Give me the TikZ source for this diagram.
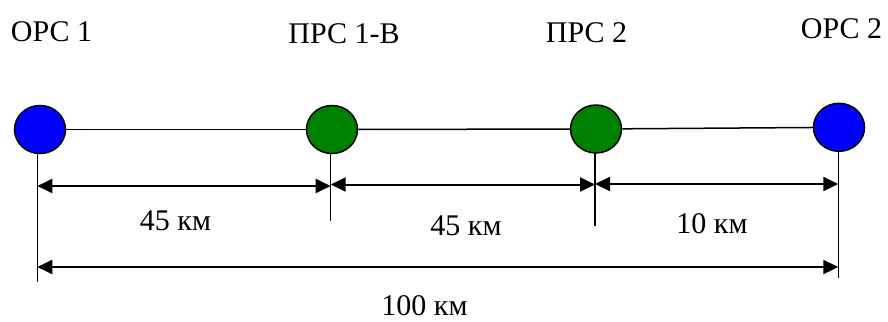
\documentclass[tikz,border=0pt]{standalone}
\usepackage{fontspec}
\setmainfont{Liberation Serif}
\newfontfamily\labelserif{Liberation Serif}
\usetikzlibrary{shapes.geometric,arrows.meta}
\definecolor{stblue}{RGB}{0,0,255}
\definecolor{stgreen}{RGB}{0,128,0}
\tikzset{
  station/.style={ellipse, draw=black, line width=1.5bp, inner sep=0pt,
                  minimum width=51bp, minimum height=48bp},
  endst/.style={station, fill=stblue},
  midst/.style={station, fill=stgreen},
  link/.style={line width=1.5bp},
  tick/.style={line width=1.5bp},
  dim/.style={line width=2bp, {Triangle[length=15bp,width=14bp]}-{Triangle[length=15bp,width=14bp]}},
  lbl/.style={inner sep=0pt, font=\labelserif\fontsize{30bp}{36bp}\selectfont}
}
\begin{document}
\begin{tikzpicture}[x=1bp,y=-1bp]
  \useasboundingbox (0,0) rectangle (888,321);

  % stations
  \node[endst] (o1) at (40,129.5) {};
  \node[midst] (p1) at (332,129.5) {};
  \node[midst] (p2) at (596,129) {};
  \node[endst] (o2) at (839,127.3) {};

  % line between stations
  \draw[link] (o1) -- (p1);
  \draw[link] (p1) -- (p2);
  \draw[link] (p2) -- (o2);

  % station names
  \node[lbl] (n1) at (51.5,32) {ОРС 1};
  \node[lbl] (n2) at (344,34) {ПРС 1-В};
  \node[lbl] (n3) at (586.5,33) {ПРС 2};
  \node[lbl] (n4) at (841.5,29) {ОРС 2};

  % extension lines
  \coordinate (t1a) at (37.3,153.5);  \coordinate (t1b) at (37.3,282);
  \coordinate (t2a) at (330.7,153);   \coordinate (t2b) at (330.7,221);
  \coordinate (t3a) at (595,152.5);   \coordinate (t3b) at (595,226);
  \coordinate (t4a) at (838.3,151.5); \coordinate (t4b) at (838.3,278);
  \draw[tick] (t1a) -- (t1b);
  \draw[tick] (t2a) -- (t2b);
  \draw[tick] (t3a) -- (t3b);
  \draw[tick] (t4a) -- (t4b);

  % dimension arrows
  \coordinate (d1a) at (37.3,186);   \coordinate (d1b) at (330.7,186);
  \coordinate (d2a) at (330.7,184.5);\coordinate (d2b) at (595,184.5);
  \coordinate (d3a) at (595,184);    \coordinate (d3b) at (838.3,184);
  \coordinate (d4a) at (37.3,267);   \coordinate (d4b) at (838.3,267);
  \draw[dim] (d1a) -- (d1b);
  \draw[dim] (d2a) -- (d2b);
  \draw[dim] (d3a) -- (d3b);
  \draw[dim] (d4a) -- (d4b);

  % distances
  \node[lbl] (k1) at (175.5,220.5) {45 км};
  \node[lbl] (k2) at (466,225.5) {45 км};
  \node[lbl] (k3) at (712,224) {10 км};
  \node[lbl] (k4) at (424.5,305.5) {100 км};
\end{tikzpicture}
\end{document}
